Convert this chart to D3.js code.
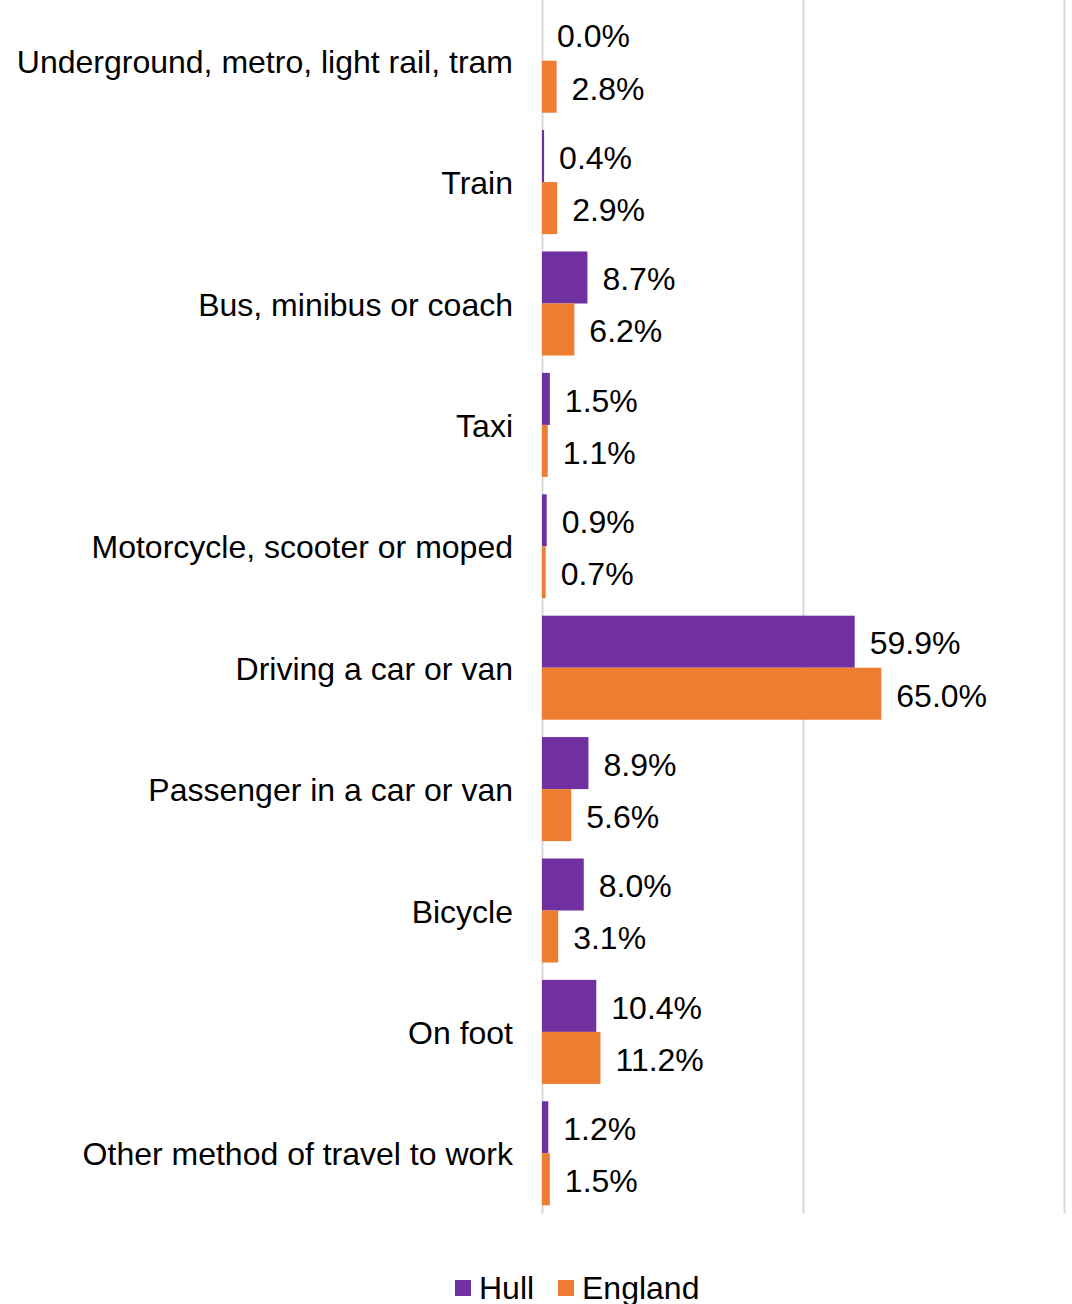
<!DOCTYPE html>
<html>
<head>
<meta charset="utf-8">
<script src="https://cdn.jsdelivr.net/npm/d3@7"></script>
<style>
  body { margin: 0; background: #fff; }
  svg text { font-family: "Liberation Sans", Arial, sans-serif; fill: #000; }
</style>
</head>
<body>
<svg id="chart" width="1072" height="1304"></svg>
<script>
// categories and values (percent)
var categories = [
  'Underground, metro, light rail, tram',
  'Train',
  'Bus, minibus or coach',
  'Taxi',
  'Motorcycle, scooter or moped',
  'Driving a car or van',
  'Passenger in a car or van',
  'Bicycle',
  'On foot',
  'Other method of travel to work'
];
var series = ['Hull', 'England'];
var hull = [0.0, 0.4, 8.7, 1.5, 0.9, 59.9, 8.9, 8.0, 10.4, 1.2];
var england = [2.8, 2.9, 6.2, 1.1, 0.7, 65.0, 5.6, 3.1, 11.2, 1.5];
var gridTicks = [0, 50, 100];
var colors = { Hull: '#7030A0', England: '#ED7D31' };

var svg = d3.select('#chart');
var plotLeft = 542, plotRight = 1064, plotTop = 0, plotBottom = 1214;
var fontSize = 32;

var x = d3.scaleLinear().domain([0, 100]).range([plotLeft, plotRight]);
var y = d3.scaleBand().domain(categories).range([plotTop, plotBottom])
  .paddingInner(0.143).paddingOuter(0.0715);
var ySub = d3.scaleBand().domain(series).range([0, y.bandwidth()]);

// gridlines
svg.append('g').selectAll('line').data(gridTicks).enter().append('line')
  .attr('x1', function(d){ return x(d) + 0.5; })
  .attr('x2', function(d){ return x(d) + 0.5; })
  .attr('y1', plotTop).attr('y2', plotBottom)
  .attr('stroke', '#d9d9d9').attr('stroke-width', 2);

// bars
var rows = categories.map(function(c, i){
  return { cat: c, values: [ { s: 'Hull', v: hull[i] }, { s: 'England', v: england[i] } ] };
});

var g = svg.append('g').selectAll('g').data(rows).enter().append('g')
  .attr('transform', function(d){ return 'translate(0,' + y(d.cat) + ')'; });

g.selectAll('rect').data(function(d){ return d.values; }).enter().append('rect')
  .attr('x', x(0))
  .attr('y', function(d){ return ySub(d.s); })
  .attr('width', function(d){ return x(d.v) - x(0); })
  .attr('height', ySub.bandwidth())
  .attr('fill', function(d){ return colors[d.s]; });

// value labels
g.selectAll('text').data(function(d){ return d.values; }).enter().append('text')
  .attr('x', function(d){ return x(d.v) + 15; })
  .attr('y', function(d){ return ySub(d.s) + ySub.bandwidth() / 2; })
  .attr('dy', '0.4em')
  .attr('font-size', fontSize)
  .text(function(d){ return d.v.toFixed(1) + '%'; });

// category labels
svg.append('g').selectAll('text').data(categories).enter().append('text')
  .attr('x', plotLeft - 29)
  .attr('y', function(d){ return y(d) + y.bandwidth() / 2; })
  .attr('dy', '0.38em')
  .attr('text-anchor', 'end')
  .attr('font-size', fontSize)
  .text(function(d){ return d; });

// legend
var legendX = [455, 558];
var lg = svg.append('g').selectAll('g').data(series).enter().append('g')
  .attr('transform', function(d, i){ return 'translate(' + legendX[i] + ',1280)'; });
lg.append('rect').attr('width', 16).attr('height', 16)
  .attr('fill', function(d){ return colors[d]; });
lg.append('text').attr('x', 24).attr('y', 8).attr('dy', '0.35em')
  .attr('font-size', 32)
  .text(function(d){ return d; });
</script>
</body>
</html>
